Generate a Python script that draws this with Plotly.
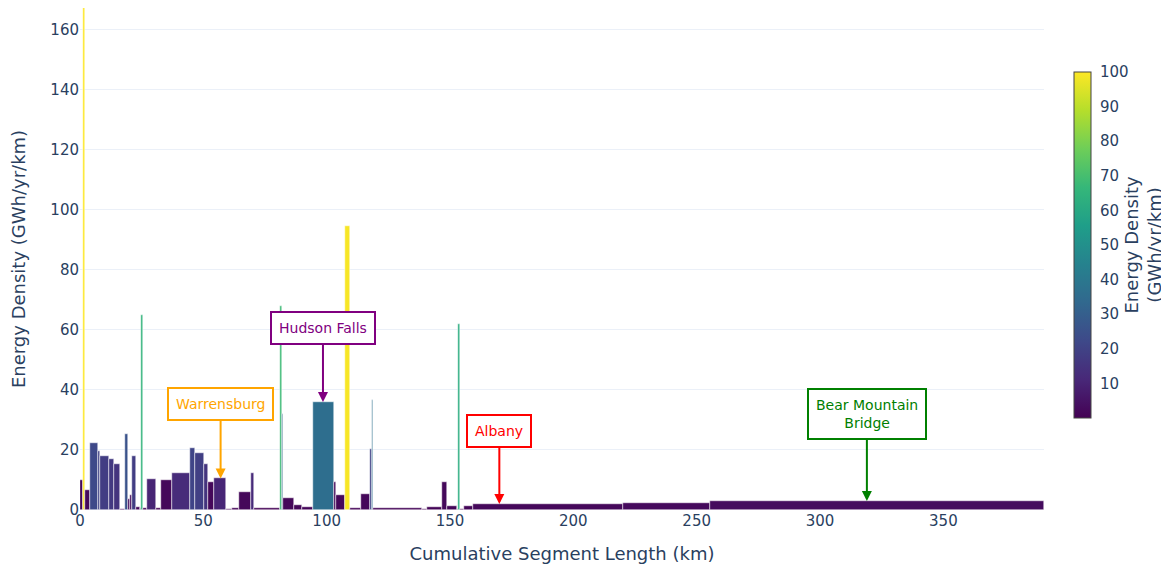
import numpy as np
import plotly.graph_objects as go

# Segment boundaries (km), bar heights and colour values (GWh/yr/km)
seg_start = [0.0, 1.1, 1.9, 4.2, 7.3, 8.2, 11.9, 13.9, 16.3, 18.3, 19.6, 20.4, 21.1, 22.8,
             24.3, 24.8, 25.6, 27.0, 30.8, 33.0, 37.2, 44.7, 46.8, 50.4, 51.9, 54.5, 59.3,
             61.6, 64.3, 69.3, 70.4, 81.0, 81.8, 82.4, 86.7, 89.8, 94.5, 103.0, 103.9, 107.6,
             109.5, 113.8, 117.5, 118.3, 118.8, 138.6, 140.8, 146.9, 148.7, 152.8, 153.3,
             154.2, 155.7, 159.5, 220.2, 255.5]
seg_end = seg_start[1:] + [390.8]
energy_density = [10.0, 168.0, 6.6, 22.2, 19.7, 18.1, 17.0, 15.3, 0.5, 25.3, 3.6, 5.0, 18.1, 1.1,
                  0.6, 65.0, 0.6, 10.3, 0.6, 9.9, 12.4, 20.6, 18.9, 15.2, 9.4, 10.5, 0.5,
                  0.8, 5.9, 12.2, 0.7, 68.0, 32.0, 3.9, 1.6, 1.1, 35.9, 9.4, 5.0, 94.8,
                  0.7, 5.2, 20.2, 36.7, 0.8, 0.4, 1.0, 9.2, 1.2, 0.3, 62.0,
                  0.5, 1.3, 2.0, 2.4, 3.0]
color_value = [2.0, 168.0, 2.0, 22.2, 19.7, 18.1, 17.0, 15.3, 0.5, 25.3, 2.0, 2.0, 18.1, 1.1,
               0.6, 65.0, 0.6, 10.3, 0.6, 2.0, 12.4, 20.6, 18.9, 15.2, 2.0, 10.5, 0.5,
               0.8, 2.0, 12.2, 0.7, 68.0, 32.0, 2.0, 1.6, 1.1, 35.9, 2.0, 2.0, 99.0,
               0.7, 2.0, 20.2, 36.7, 0.8, 0.4, 1.0, 2.0, 1.2, 0.3, 62.0,
               0.5, 1.3, 2.0, 2.4, 3.0]

labels = ["Warrensburg", "Hudson Falls", "Albany", "Bear Mountain<br>Bridge"]
label_km = [57.0, 98.5, 170.0, 319.0]
label_val = [10.5, 36.0, 2.0, 3.0]
label_colors = ["orange", "purple", "red", "green"]
label_ay = [-74, -74, -73, -87]

x_ticks = [0, 50, 100, 150, 200, 250, 300, 350]
y_ticks = [0, 20, 40, 60, 80, 100, 120, 140, 160]
cbar_ticks = [10, 20, 30, 40, 50, 60, 70, 80, 90, 100]

starts = np.array(seg_start)
ends = np.array(seg_end)
widths = ends - starts
mids = (starts + ends) / 2

FONT = "Verdana, DejaVu Sans, sans-serif"
TXT = "#2a3f5f"

fig = go.Figure()
fig.add_trace(go.Bar(
    x=mids, y=energy_density, width=widths,
    marker=dict(
        color=color_value, colorscale="Viridis", cmin=0, cmax=100,
        line=dict(color="white", width=0.5),
        showscale=True,
        colorbar=dict(
            title=dict(text="Energy Density<br>(GWh/yr/km)", side="right",
                       font=dict(size=18, color=TXT, family=FONT)),
            tickvals=cbar_ticks, tickfont=dict(size=15, color=TXT, family=FONT),
            ticks="outside", ticklen=6, tickcolor="rgba(0,0,0,0)",
            len=0.729, y=0.528, yanchor="middle", x=1.021, xanchor="left", xpad=10,
            thickness=17, outlinewidth=1, outlinecolor="#444",
        ),
    ),
    hoverinfo="skip",
))

for t, xk, yv, c, ay in zip(labels, label_km, label_val, label_colors, label_ay):
    fig.add_annotation(
        x=xk, y=yv, xref="x", yref="y", text=t, showarrow=True,
        ax=0, ay=ay, arrowhead=2, arrowsize=1, arrowwidth=2, arrowcolor=c,
        font=dict(size=14, color=c, family=FONT),
        bgcolor="white", bordercolor=c, borderwidth=2, borderpad=7,
    )

fig.update_layout(
    template="plotly_white",
    width=1169, height=570,
    margin=dict(l=72, r=133, t=0, b=68),
    font=dict(family=FONT, color=TXT),
    showlegend=False,
    bargap=0,
    xaxis=dict(title=dict(text="Cumulative Segment Length (km)", font=dict(size=18), standoff=18),
               tickvals=x_ticks, tickfont=dict(size=15), showgrid=False,
               range=[0, 390.8], zeroline=False, automargin=False),
    yaxis=dict(title=dict(text="Energy Density (GWh/yr/km)", font=dict(size=18), standoff=22),
               tickvals=y_ticks, tickfont=dict(size=15), range=[0, 167.3],
               gridcolor="#EBF0F8", zeroline=False, automargin=False),
)

fig.write_html("out.html")
